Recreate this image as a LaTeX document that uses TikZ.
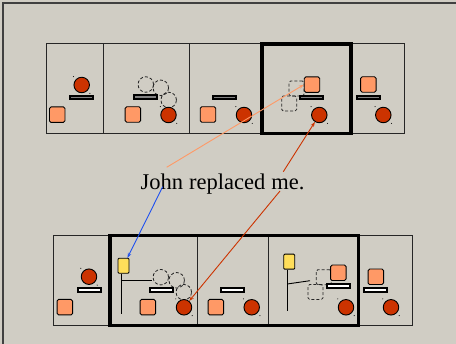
\documentclass[tikz,border=0pt]{standalone}
\usepackage{fontspec}
\setmainfont{Liberation Serif}
\usetikzlibrary{arrows.meta,calc}

\definecolor{groundgray}{RGB}{208,205,196}
\definecolor{piecesalmon}{RGB}{255,153,102}
\definecolor{piecered}{RGB}{204,51,0}
\definecolor{pieceyellow}{RGB}{255,222,90}
\definecolor{barshade}{RGB}{130,130,130}
\definecolor{linkblue}{RGB}{30,80,240}

\begin{document}
\begin{tikzpicture}[x=1pt,y=-1pt,
  frameline/.style={draw=black!75, line width=1.2pt},
  panel/.style={draw=black!85, line width=0.8pt},
  focus/.style={draw=black, line width=3.4pt},
  sq/.style={draw=black, line width=0.9pt, fill=piecesalmon, rounded corners=1.6pt,
    minimum size=15.5pt, inner sep=0pt},
  ghostsq/.style={draw=black!85, dash pattern=on 3pt off 2pt, line width=0.8pt,
    rounded corners=1.6pt, minimum size=15pt, inner sep=0pt},
  ball/.style={circle, draw=black, line width=0.9pt, fill=piecered,
    minimum size=15.5pt, inner sep=0pt},
  ghostball/.style={circle, draw=black!85, dash pattern=on 3pt off 2pt, line width=0.8pt,
    minimum size=15.5pt, inner sep=0pt},
  shelf/.style={draw=black, line width=2pt, fill=barshade,
    minimum width=23pt, minimum height=3.8pt, inner sep=0pt},
  shelfw/.style={shelf, fill=white},
  flag/.style={draw=black, line width=0.9pt, fill=pieceyellow, rounded corners=1pt,
    minimum width=11pt, minimum height=15pt, inner sep=0pt},
  pole/.style={draw=black, line width=0.9pt},
  caption/.style={font=\fontsize{22.5pt}{26pt}\selectfont, inner sep=0pt, anchor=base west},
  link/.style={line width=0.9pt, -{Stealth[length=5pt,width=3.5pt]}}
]
% page and ground
\useasboundingbox (0,0) rectangle (456,344);
\fill[groundgray] (0,0) rectangle (456,344);
\draw[frameline] (3,3) rectangle (470,360);

% ---------- upper strip ----------
\draw[panel] (46,43.5) rectangle (404,133.5);
\draw[panel] (103,43.5) -- (103,133.5);
\draw[panel] (189,43.5) -- (189,133.5);

% frame 1
\node[sq]   (ua1) at (57.2,114.7) {};
\node[shelf](ub1) at (81.8,97.6) {};
\node[ball] (uc1) at (81.7,85) {};
% frame 2
\node[ghostball] (ug1) at (145.8,84.5) {};
\node[ghostball] (ug2) at (160.8,87.8) {};
\node[ghostball] (ug3) at (168.7,100) {};
\node[sq]   (ua2) at (132.8,114.5) {};
\node[shelf](ub2) at (145.8,97.3) {};
\node[ball] (uc2) at (168.5,115) {};
% frame 3
\node[sq]   (ua3) at (208,114.5) {};
\node[shelf](ub3) at (224.8,97.6) {};
\node[ball] (uc3) at (244,115) {};
% frame 4
\node[ghostsq] (uh1) at (296.5,88.5) {};
\node[ghostsq] (uh2) at (289.2,103.5) {};
\node[sq]   (ua4) at (312,84.7) {};
\node[shelf](ub4) at (311.8,97.6) {};
\node[ball] (uc4) at (319.3,115) {};
% frame 5
\node[sq]   (ua5) at (368.3,84.5) {};
\node[shelf](ub5) at (368.3,97.6) {};
\node[ball] (uc5) at (383.3,115) {};

\draw[focus] (262,44) rectangle (351,133.3);

% ---------- lower strip ----------
\draw[panel] (53.3,235.3) rectangle (412.3,325.7);
\draw[panel] (197,235.3) -- (197,325.7);
\draw[panel] (268.7,235.3) -- (268.7,325.7);

% frame 1
\node[sq]    (la1) at (64.8,307.2) {};
\node[shelfw](lb1) at (89.5,290.2) {};
\node[ball]  (lc1) at (89,276.7) {};
% frame 2
\node[flag]  (lf2) at (123.5,265.8) {};
\coordinate  (lp2) at (121.3,314.3);
\coordinate  (lk2) at (121.3,280.7);
\coordinate  (lt2) at (151.7,280.7);
\draw[pole] (lf2.south -| lp2) -- (lp2);
\draw[pole] (lk2) -- (lt2);
\node[ghostball] (lg1) at (160.8,277.2) {};
\node[ghostball] (lg2) at (176.7,280.3) {};
\node[ghostball] (lg3) at (183.8,292.2) {};
\node[sq]    (la2) at (147.8,307.2) {};
\node[shelfw](lb2) at (161.2,290) {};
\node[ball]  (lc2) at (184,307.3) {};
% frame 3
\node[sq]    (la3) at (215.8,307.2) {};
\node[shelfw](lb3) at (232.8,290) {};
\node[ball]  (lc3) at (251.7,307.3) {};
% frame 4
\node[flag]  (lf4) at (289.2,261.7) {};
\coordinate  (lp4) at (287.3,310.7);
\coordinate  (lk4) at (287.3,284);
\coordinate  (lt4) at (310,280.7);
\draw[pole] (lf4.south -| lp4) -- (lp4);
\draw[pole] (lk4) -- (lt4);
\node[ghostsq] (lh1) at (323.7,277.2) {};
\node[ghostsq] (lh2) at (315.5,292) {};
\node[sq]    (la4) at (338.3,272.8) {};
\node[shelfw](lb4) at (338.3,286.2) {};
\node[ball]  (lc4) at (346,307.3) {};
% frame 5
\node[sq]    (la5) at (375.8,276.8) {};
\node[shelfw](lb5) at (375.8,290) {};
\node[ball]  (lc5) at (391,307.3) {};

\draw[focus] (110,235.3) rectangle (358.7,325.3);

% selection handles beside the balls
\foreach \b in {uc1,uc2,uc3,uc4,uc5,lc1,lc2,lc3,lc4,lc5}{
  \fill[black] ($(\b.center)+(-8.2,-8.4)$) circle (0.55pt);
  \fill[black] ($(\b.center)+(8.2,8.4)$) circle (0.55pt);
}

% ---------- sentence ----------
\node[caption] (john) at (140.5,190) {John};
\node[caption] (repl) at ([xshift=5.6pt]john.base east) {replaced};
\node[caption] (me)   at ([xshift=5.6pt]repl.base east) {me.};

\coordinate (johnup) at (166.7,167.3);
\coordinate (johndn) at (162.7,186.7);
\coordinate (meup)   at (283.3,171.7);
\coordinate (medn)   at (280,191);

\draw[link, piecesalmon] (johnup) -- (ua4.west);
\draw[link, linkblue]    (johndn) -- (lf2);
\draw[link, piecered]    (meup)   -- (uc4);
\draw[link, piecered]    (medn)   -- (lc2);
\end{tikzpicture}
\end{document}
